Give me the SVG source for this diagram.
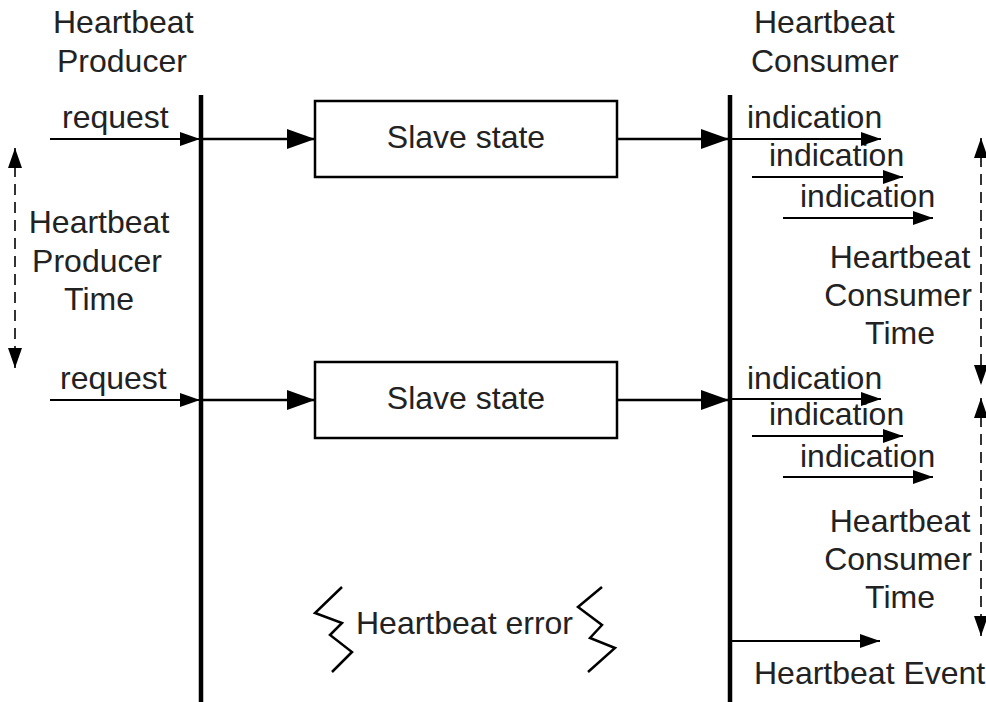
<svg xmlns="http://www.w3.org/2000/svg" width="986" height="702" viewBox="0 0 986 702">
<style>
text{font-family:"Liberation Sans",Arial,sans-serif;font-size:32px;fill:#222}
.c{text-anchor:middle}
.ln{stroke:#000;stroke-width:2;fill:none}
.bar{stroke:#000;stroke-width:4.5}
.big{stroke:#000;stroke-width:2.5;fill:none}
.dash{stroke:#333;stroke-width:2;stroke-dasharray:11,7;fill:none}
.box{fill:#fff;stroke:#000;stroke-width:2.5}
.zz{stroke:#000;stroke-width:2.5;fill:none;stroke-linejoin:miter}
</style>
<defs>
<marker id="sa" markerUnits="userSpaceOnUse" markerWidth="22" markerHeight="16" refX="20" refY="8" orient="auto"><path d="M0,1 L20,8 L0,15 z" fill="#000"/></marker>
<marker id="la" markerUnits="userSpaceOnUse" markerWidth="30" markerHeight="20" refX="28" refY="10" orient="auto"><path d="M0,0 L28,10 L0,20 z" fill="#000"/></marker>
<marker id="ta" markerUnits="userSpaceOnUse" markerWidth="22" markerHeight="16" refX="20" refY="8" orient="auto-start-reverse"><path d="M0,1 L20,8 L0,15 z" fill="#000"/></marker>
</defs>

<g id="producer">
<text x="53" y="33">Heartbeat</text>
<text x="57" y="72">Producer</text>
<line class="bar" x1="201" y1="95" x2="201" y2="702"/>
</g>
<g id="consumer">
<text x="754" y="33">Heartbeat</text>
<text x="751" y="72">Consumer</text>
<line class="bar" x1="730" y1="95" x2="730" y2="702"/>
</g>

<g id="slave1">
<rect class="box" x="315" y="101" width="302" height="76"/>
<text class="c" x="466" y="148">Slave state</text>
</g>
<g id="slave2">
<rect class="box" x="315" y="362" width="302" height="76"/>
<text class="c" x="466" y="409">Slave state</text>
</g>

<g id="producer-time">
<text class="c" x="99" y="233">Heartbeat</text>
<text class="c" x="97" y="272">Producer</text>
<text class="c" x="99" y="310">Time</text>
</g>
<g id="consumer-time1">
<text class="c" x="900" y="268">Heartbeat</text>
<text class="c" x="898" y="306">Consumer</text>
<text class="c" x="900" y="344">Time</text>
</g>
<g id="consumer-time2">
<text class="c" x="900" y="532">Heartbeat</text>
<text class="c" x="898" y="570">Consumer</text>
<text class="c" x="900" y="608">Time</text>
</g>

<g id="labels">
<text x="62" y="128">request</text>
<text x="60" y="389">request</text>
<text x="747" y="128">indication</text>
<text x="769" y="166">indication</text>
<text x="800" y="207">indication</text>
<text x="747" y="389">indication</text>
<text x="769" y="425">indication</text>
<text x="800" y="467">indication</text>
<text x="754" y="684">Heartbeat Event</text>
</g>

<g id="error">
<text x="356" y="634">Heartbeat error</text>
<polyline class="zz" points="342,587 315,613 342,623 330,635 352,652 332,672"/>
<polyline class="zz" points="602,587 578,607 602,625 590,638 615,648 588,672"/>
</g>

<g id="connectors">
<line class="ln" x1="50" y1="139" x2="200" y2="139" marker-end="url(#sa)"/>
<line class="ln" x1="50" y1="400" x2="200" y2="400" marker-end="url(#sa)"/>
<line class="big" x1="201" y1="139" x2="315" y2="139" marker-end="url(#la)"/>
<line class="big" x1="201" y1="400" x2="315" y2="400" marker-end="url(#la)"/>
<line class="big" x1="617" y1="139" x2="729" y2="139" marker-end="url(#la)"/>
<line class="big" x1="617" y1="400" x2="729" y2="400" marker-end="url(#la)"/>
<line class="ln" x1="730" y1="139" x2="881" y2="139" marker-end="url(#sa)"/>
<line class="ln" x1="752" y1="177" x2="903" y2="177" marker-end="url(#sa)"/>
<line class="ln" x1="783" y1="218" x2="933" y2="218" marker-end="url(#sa)"/>
<line class="ln" x1="730" y1="399" x2="881" y2="399" marker-end="url(#sa)"/>
<line class="ln" x1="752" y1="436" x2="903" y2="436" marker-end="url(#sa)"/>
<line class="ln" x1="783" y1="477" x2="933" y2="477" marker-end="url(#sa)"/>
<line class="ln" x1="730" y1="641" x2="880" y2="641" marker-end="url(#sa)"/>
<line class="dash" x1="15" y1="148" x2="15" y2="368" marker-start="url(#ta)" marker-end="url(#ta)"/>
<line class="dash" x1="981" y1="138" x2="981" y2="385" marker-start="url(#ta)" marker-end="url(#ta)"/>
<line class="dash" x1="981" y1="398" x2="981" y2="636" marker-start="url(#ta)" marker-end="url(#ta)"/>
</g>
</svg>
